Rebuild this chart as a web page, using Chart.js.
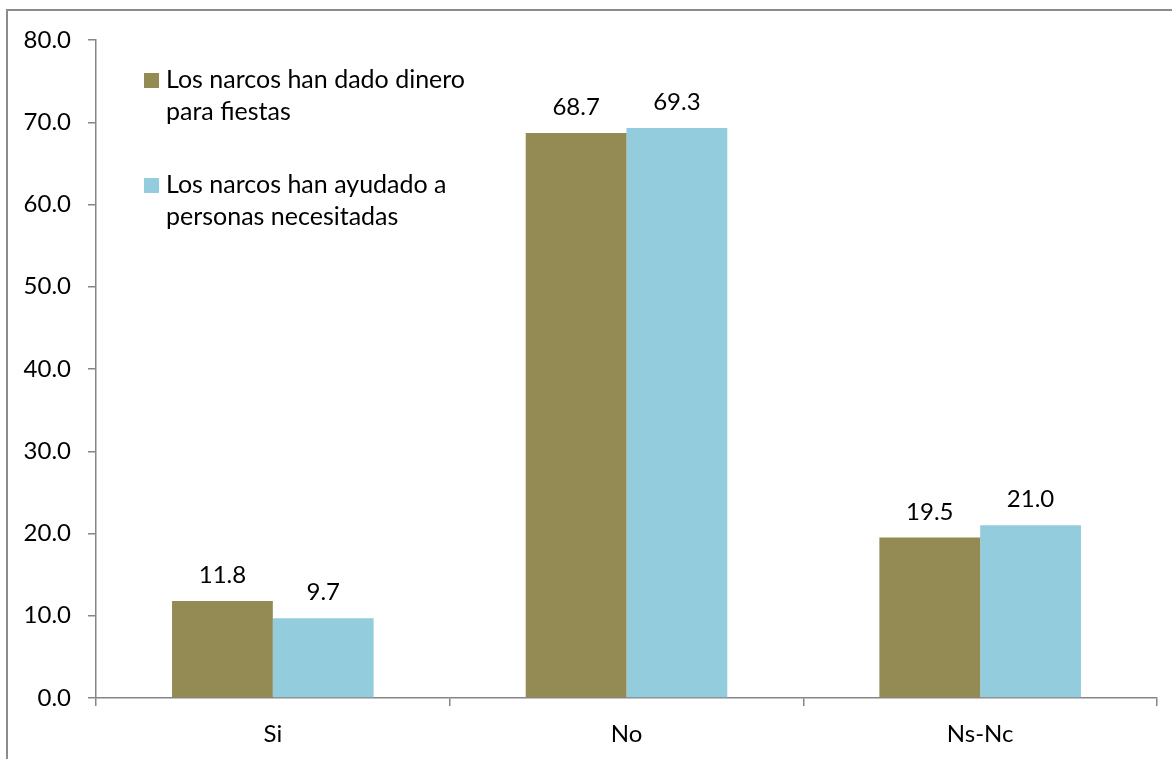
<!DOCTYPE html>
<html lang="es">
<head>
    <meta charset="UTF-8">
    <title>Narcos - ayuda a la comunidad</title>
    <script src="https://cdn.jsdelivr.net/npm/chart.js"></script>
    <style>
        html, body { margin: 0; padding: 0; background: #ffffff; }
        .wrap { position: relative; width: 1172px; height: 759px; }
    </style>
</head>
<body>
    <div class="wrap">
        <canvas id="narcosChart" width="1172" height="759"></canvas>
    </div>
    <script>
        const categories = ['Si', 'No', 'Ns-Nc'];
        const fiestasValues = [11.8, 68.7, 19.5];
        const ayudaValues = [9.7, 69.3, 21.0];
        const fiestasLegend = ['Los narcos han dado dinero', 'para fiestas'];
        const ayudaLegend = ['Los narcos han ayudado a', 'personas necesitadas'];
        const yTicks = [0, 10, 20, 30, 40, 50, 60, 70, 80];

        const FONT = 'Lato, "Open Sans", sans-serif';
        const axisGray = '#868686';

        // white background and the outer frame
        const framePlugin = {
            id: 'frame',
            beforeDraw(chart) {
                const ctx = chart.ctx;
                ctx.save();
                ctx.fillStyle = '#ffffff';
                ctx.fillRect(0, 0, chart.width, chart.height);
                ctx.strokeStyle = '#8c8c8c';
                ctx.lineWidth = 2;
                ctx.strokeRect(7, 10, chart.width + 20, chart.height + 20);
                ctx.restore();
            }
        };

        // value labels above each bar
        const valueLabels = {
            id: 'valueLabels',
            afterDatasetsDraw(chart) {
                const ctx = chart.ctx;
                ctx.save();
                ctx.font = '24px ' + FONT;
                ctx.fillStyle = '#000000';
                ctx.textAlign = 'center';
                ctx.textBaseline = 'alphabetic';
                chart.data.datasets.forEach((ds, i) => {
                    chart.getDatasetMeta(i).data.forEach((bar, j) => {
                        ctx.fillText(ds.data[j].toFixed(1), bar.x, bar.y - 18);
                    });
                });
                ctx.restore();
            }
        };

        // legend drawn inside the plot, wrapped over two lines
        const boxLegend = {
            id: 'boxLegend',
            afterDraw(chart) {
                const ctx = chart.ctx;
                const entries = [
                    { color: chart.data.datasets[0].backgroundColor, lines: fiestasLegend, y: 80 },
                    { color: chart.data.datasets[1].backgroundColor, lines: ayudaLegend, y: 185 }
                ];
                ctx.save();
                ctx.font = '25px ' + FONT;
                ctx.textBaseline = 'middle';
                entries.forEach(e => {
                    ctx.fillStyle = e.color;
                    ctx.fillRect(144, e.y - 7, 15, 15);
                    ctx.fillStyle = '#000000';
                    e.lines.forEach((line, k) => {
                        ctx.fillText(line, 166, e.y + k * 32);
                    });
                });
                ctx.restore();
            }
        };

        new Chart(document.getElementById('narcosChart'), {
            type: 'bar',
            data: {
                labels: categories,
                datasets: [
                    {
                        label: fiestasLegend.join(' '),
                        data: fiestasValues,
                        backgroundColor: '#948A54',
                        categoryPercentage: 0.57,
                        barPercentage: 1.0
                    },
                    {
                        label: ayudaLegend.join(' '),
                        data: ayudaValues,
                        backgroundColor: '#93CDDD',
                        categoryPercentage: 0.57,
                        barPercentage: 1.0
                    }
                ]
            },
            options: {
                responsive: false,
                animation: false,
                layout: { padding: { top: 40, right: 15, left: 0, bottom: 0 } },
                plugins: {
                    legend: { display: false },
                    tooltip: { enabled: false }
                },
                scales: {
                    x: {
                        grid: {
                            offset: true,
                            drawOnChartArea: false,
                            tickLength: 8,
                            color: axisGray,
                            lineWidth: 1.5
                        },
                        border: { color: axisGray, width: 1.5 },
                        ticks: {
                            color: '#000000',
                            padding: 14,
                            font: { family: FONT, size: 24 }
                        },
                        afterFit(scale) { scale.height = 61; }
                    },
                    y: {
                        min: 0,
                        max: 80,
                        afterBuildTicks(scale) {
                            scale.ticks = yTicks.map(v => ({ value: v }));
                        },
                        grid: {
                            drawOnChartArea: false,
                            tickLength: 8,
                            color: axisGray,
                            lineWidth: 1.5
                        },
                        border: { color: axisGray, width: 1.5 },
                        ticks: {
                            color: '#000000',
                            padding: 17,
                            font: { family: FONT, size: 24 },
                            callback: v => Number(v).toFixed(1)
                        },
                        afterFit(scale) { scale.width = 96; }
                    }
                }
            },
            plugins: [framePlugin, valueLabels, boxLegend]
        });
    </script>
</body>
</html>
